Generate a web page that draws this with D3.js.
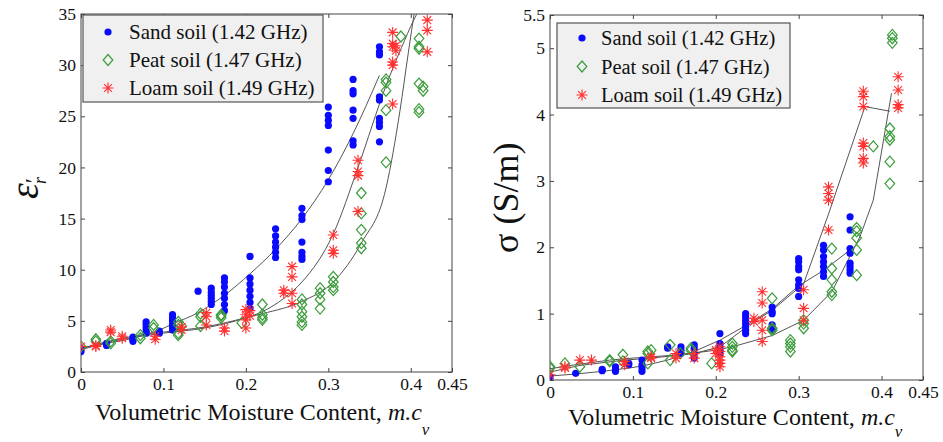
<!DOCTYPE html>
<html>
<head>
<meta charset="utf-8">
<script src="https://cdn.jsdelivr.net/npm/d3@7"></script>
<style>
  body { margin: 0; background: #fff; }
  svg text { font-family: "Liberation Serif", "Times New Roman", serif !important; fill: #111; }
</style>
</head>
<body>
<div id="chart"></div>
<script>
// tick values
const xTicks = [0, 0.1, 0.2, 0.3, 0.4, 0.45];
const epsTicks = [0, 5, 10, 15, 20, 25, 30, 35];
const sigTicks = [0, 1, 2, 3, 4, 5, 5.5];

const legendLabels = ["Sand soil (1.42 GHz)", "Peat soil (1.47 GHz)", "Loam soil (1.49 GHz)"];

// measured points, grouped by moisture content: [mc, [values]]
// real part of permittivity
const sandEps = [
  [0, [2.0, 2.3]], [0.031, [2.6, 2.8]], [0.063, [3.0, 3.2, 3.4]], [0.079, [3.8, 4.0, 4.3, 4.6, 4.9]],
  [0.095, [3.8, 4.0]], [0.111, [4.1, 4.4, 4.7, 5.0, 5.3, 5.6]], [0.142, [7.9]],
  [0.158, [6.6, 6.9, 7.2, 7.5, 7.8, 8.2]], [0.174, [6.0, 6.6, 7.2, 7.7, 8.3, 8.8, 9.2]],
  [0.205, [6.2, 6.8, 7.4, 8.0, 8.6, 9.2, 11.3]], [0.236, [11.2, 11.7, 12.2, 12.7, 13.3, 14.0]],
  [0.268, [11.0, 11.3, 11.7, 12.7, 14.9, 15.3, 16.0]], [0.30, [18.6, 19.7, 21.7, 24.1, 24.6, 25.1, 25.9]],
  [0.33, [22.2, 22.6, 24.8, 25.6, 27.2, 27.5, 28.6]], [0.362, [22.5, 24.0, 24.4, 24.8, 26.6, 26.9, 31.0, 31.3, 31.8]]
];
const peatEps = [
  [0, [2.5]], [0.018, [3.0, 3.2]], [0.036, [2.8, 3.0]], [0.072, [3.3, 3.6]], [0.088, [4.3, 4.6]],
  [0.118, [3.6, 3.8, 4.6, 4.9]], [0.122, [4.5]], [0.145, [4.5, 5.4, 5.7]], [0.17, [5.3, 5.5, 5.6]],
  [0.195, [4.8]], [0.22, [5.1, 5.3, 5.6, 6.6]], [0.268, [4.6, 4.9, 5.4, 5.9, 6.6, 7.1]],
  [0.29, [6.2, 7.1, 7.7, 8.2]], [0.306, [8.0, 8.3, 8.8, 9.3]], [0.34, [12.1, 12.6, 13.9, 15.5, 17.5]],
  [0.37, [20.5, 25.6, 27.5, 28.3, 28.6]], [0.388, [32.8]], [0.41, [25.4, 25.7, 28.2, 31.6, 31.8, 32.6]],
  [0.415, [27.5, 27.9]]
];
const loamEps = [
  [0, [2.5]], [0.018, [2.5, 2.6]], [0.036, [3.9, 4.1]], [0.05, [3.3, 3.5]], [0.09, [3.2, 3.5]],
  [0.122, [4.1, 4.4]], [0.152, [4.6, 5.4, 5.8]], [0.174, [4.0, 4.3]], [0.2, [4.3, 5.1, 5.6, 6.1]],
  [0.205, [5.5, 6.0]], [0.246, [7.7, 8.0]], [0.256, [6.7, 7.7, 9.3, 10.3]], [0.306, [11.6, 11.9, 13.4]],
  [0.336, [15.7, 19.2, 19.6, 20.7]], [0.378, [26.2, 30.0, 30.3, 31.8, 32.1, 33.2]], [0.382, [31.4, 31.9]],
  [0.42, [31.3, 33.4, 34.4]]
];

// conductivity
const sandSig = [
  [0, [0.05]], [0.031, [0.10]], [0.063, [0.14, 0.16]], [0.079, [0.13, 0.15, 0.20]], [0.095, [0.23, 0.25]],
  [0.111, [0.13, 0.18, 0.23, 0.30]], [0.142, [0.48, 0.50]], [0.158, [0.40, 0.45, 0.50]],
  [0.174, [0.33, 0.40, 0.48, 0.53]], [0.205, [0.40, 0.45, 0.50, 0.55, 0.70]],
  [0.236, [0.70, 0.75, 0.80, 0.85, 0.90, 0.95, 1.0]], [0.268, [0.75, 0.78, 0.83, 1.0, 1.03, 1.1]],
  [0.30, [1.26, 1.38, 1.43, 1.51, 1.66, 1.71, 1.78, 1.83]], [0.33, [1.56, 1.63, 1.71, 1.78, 1.86, 1.96, 2.03]],
  [0.362, [1.61, 1.66, 1.71, 1.76, 1.91, 1.98, 2.26, 2.46]]
];
const peatSig = [
  [0, [0.18, 0.20]], [0.018, [0.25]], [0.036, [0.20]], [0.072, [0.28, 0.30]], [0.088, [0.28, 0.38]],
  [0.118, [0.25, 0.40, 0.43]], [0.122, [0.45]], [0.145, [0.30, 0.53]], [0.157, [0.40]], [0.17, [0.45, 0.48]],
  [0.195, [0.25]], [0.22, [0.43, 0.45, 0.50, 0.55]], [0.268, [0.75, 0.78, 1.23]], [0.29, [0.43, 0.50, 0.55, 0.60]],
  [0.306, [0.78, 0.85, 0.90]], [0.34, [1.28, 1.33, 1.51, 1.68, 1.98]], [0.37, [1.58, 1.96, 2.14, 2.24, 2.29]],
  [0.39, [3.52]], [0.41, [2.96, 3.29, 3.62, 3.67, 3.79]], [0.413, [5.08, 5.15, 5.2]]
];
const loamSig = [
  [0, [0.08]], [0.018, [0.18, 0.20]], [0.036, [0.30]], [0.05, [0.30]], [0.09, [0.23, 0.28]],
  [0.122, [0.33, 0.35]], [0.152, [0.33, 0.40]], [0.174, [0.33, 0.40]], [0.2, [0.40, 0.45]],
  [0.205, [0.20, 0.25, 0.30, 0.35, 0.43, 0.50]], [0.246, [0.88, 0.93]], [0.256, [0.58, 0.75, 0.90, 1.16, 1.33]],
  [0.306, [0.90, 1.08, 1.36]], [0.336, [2.26, 2.71, 2.81, 2.91]], [0.378, [3.27, 3.34, 3.52, 3.57, 4.12, 4.27, 4.35]],
  [0.42, [4.10, 4.15, 4.37, 4.57]]
];

// model curves [mc, value]
const sandEpsFit = [[0, 2.2], [0.031, 2.8], [0.063, 3.3], [0.079, 3.7], [0.095, 4.1], [0.111, 4.7], [0.142, 5.8],
  [0.158, 6.6], [0.174, 7.5], [0.205, 9.6], [0.236, 12.0], [0.268, 15.0], [0.30, 18.8], [0.33, 23.3], [0.362, 29.0]];
const peatEpsFit = [[0, 2.3], [0.05, 3.3], [0.1, 3.9], [0.15, 4.4], [0.2, 5.3], [0.22, 5.7], [0.268, 6.9],
  [0.306, 8.8], [0.34, 12.6], [0.37, 18.0], [0.387, 25.6], [0.397, 31.2], [0.405, 35.5], [0.41, 38]];
const loamEpsFit = [[0, 2.3], [0.05, 3.2], [0.1, 3.8], [0.15, 4.3], [0.2, 5.3], [0.22, 5.9], [0.246, 7.2],
  [0.268, 8.8], [0.306, 13.5], [0.336, 20.0], [0.37, 28.0], [0.40, 33.8], [0.41, 35.6], [0.415, 37]];

const sandSigFit = [[0, 0.06], [0.031, 0.09], [0.063, 0.13], [0.095, 0.18], [0.111, 0.21], [0.142, 0.30],
  [0.174, 0.43], [0.205, 0.60], [0.236, 0.82], [0.268, 1.07], [0.30, 1.42], [0.33, 1.65], [0.362, 1.96]];
const peatSigFit = [[0, 0.17], [0.036, 0.24], [0.072, 0.30], [0.1, 0.33], [0.145, 0.37], [0.17, 0.40],
  [0.2, 0.45], [0.22, 0.50], [0.268, 0.67], [0.306, 0.90], [0.34, 1.33], [0.374, 2.16], [0.39, 2.71], [0.412, 4.32]];
const loamSigFit = [[0, 0.12], [0.036, 0.22], [0.09, 0.30], [0.122, 0.33], [0.152, 0.37], [0.174, 0.40],
  [0.205, 0.50], [0.246, 0.88], [0.268, 1.05], [0.306, 1.45], [0.336, 2.50], [0.38, 4.12], [0.41, 4.05]];

const blue = "#0a0aff", green = "#3c9c3c", red = "#ff3030", axisCol = "#444";
const serif = "'Liberation Serif', 'Times New Roman', serif";

const svg = d3.select("#chart").append("svg").attr("width", 943).attr("height", 442)
  .attr("font-family", serif);

function flat(groups) {
  let out = [];
  groups.forEach(g => g[1].forEach(v => out.push([g[0], v])));
  return out;
}

function addMarker(g, type, x, y) {
  if (type === "dot") {
    g.append("circle").attr("cx", x).attr("cy", y).attr("r", 3.6).attr("fill", blue);
  } else if (type === "diamond") {
    g.append("path").attr("transform", "translate(" + x + "," + y + ")")
      .attr("d", "M0,-5.5L4.8,0L0,5.5L-4.8,0Z").attr("fill", "none").attr("stroke", green).attr("stroke-width", 1.2);
  } else {
    g.append("path").attr("transform", "translate(" + x + "," + y + ")")
      .attr("d", "M-5.5,0H5.5M0,-5.5V5.5M-3.9,-3.9L3.9,3.9M-3.9,3.9L3.9,-3.9")
      .attr("stroke", red).attr("stroke-width", 1.1);
  }
}

function panel(cfg) {
  const x = d3.scaleLinear().domain([0, 0.45]).range([cfg.left, cfg.right]);
  const y = d3.scaleLinear().domain(cfg.yDomain).range([cfg.bottom, cfg.top]);
  const g = svg.append("g");
  const w = cfg.right - cfg.left, h = cfg.bottom - cfg.top;

  g.append("clipPath").attr("id", cfg.id).append("rect")
    .attr("x", cfg.left).attr("y", cfg.top).attr("width", w).attr("height", h);

  // box
  g.append("rect").attr("x", cfg.left).attr("y", cfg.top).attr("width", w).attr("height", h)
    .attr("fill", "none").attr("stroke", axisCol).attr("stroke-width", 1);

  // axes with inward ticks
  const fmt = d => String(d);
  const styleText = a => a.selectAll("text").attr("font-family", serif).style("font-size", "17.5px").attr("fill", "#111");
  g.append("g").attr("transform", "translate(0," + cfg.bottom + ")")
    .call(d3.axisBottom(x).tickValues(xTicks).tickFormat(fmt).tickSizeInner(-4).tickSizeOuter(0).tickPadding(6))
    .call(a => { a.select(".domain").remove(); a.selectAll("line").attr("stroke", axisCol); styleText(a); });
  g.append("g").attr("transform", "translate(0," + cfg.top + ")")
    .call(d3.axisTop(x).tickValues(xTicks).tickFormat("").tickSizeInner(-4).tickSizeOuter(0))
    .call(a => { a.select(".domain").remove(); a.selectAll("line").attr("stroke", axisCol); });
  g.append("g").attr("transform", "translate(" + cfg.left + ",0)")
    .call(d3.axisLeft(y).tickValues(cfg.yTicks).tickFormat(fmt).tickSizeInner(-4).tickSizeOuter(0).tickPadding(5))
    .call(a => { a.select(".domain").remove(); a.selectAll("line").attr("stroke", axisCol); styleText(a); });
  g.append("g").attr("transform", "translate(" + cfg.right + ",0)")
    .call(d3.axisRight(y).tickValues(cfg.yTicks).tickFormat("").tickSizeInner(-4).tickSizeOuter(0))
    .call(a => { a.select(".domain").remove(); a.selectAll("line").attr("stroke", axisCol); });

  // model lines
  const line = d3.line().x(d => x(d[0])).y(d => y(d[1])).curve(cfg.curve);
  const lg = g.append("g").attr("clip-path", "url(#" + cfg.id + ")");
  cfg.fits.forEach(f => {
    lg.append("path").attr("d", line(f)).attr("fill", "none").attr("stroke", "#555").attr("stroke-width", 1);
  });

  // points
  const pg = g.append("g").attr("clip-path", "url(#" + cfg.id + ")");
  const types = ["dot", "diamond", "star"];
  cfg.series.forEach((s, i) => flat(s).forEach(p => addMarker(pg, types[i], x(p[0]), y(p[1]))));

  // legend
  const L = cfg.legend;
  g.append("rect").attr("x", L.x).attr("y", L.y).attr("width", L.w).attr("height", L.h)
    .attr("fill", "#f0f0f0").attr("stroke", "#555").attr("stroke-width", 1.2);
  legendLabels.forEach((t, i) => {
    const cy = L.row0 + i * L.step;
    addMarker(g, types[i], L.mx, cy);
    g.append("text").attr("x", L.tx).attr("y", cy + 7).style("font-size", L.fs + "px").text(t);
  });

  // x label
  const xl = g.append("text").attr("x", cfg.xlab.x).attr("y", cfg.xlab.y).style("font-size", "24px");
  xl.append("tspan").text("Volumetric Moisture Content, ");
  xl.append("tspan").style("font-style", "italic").text("m.c");
  xl.append("tspan").style("font-style", "italic").style("font-size", "17px").attr("dy", cfg.xlab.sub).text("v");

  return g;
}

const left = panel({
  id: "clipL", left: 81, right: 452, top: 14, bottom: 372, yDomain: [0, 35], yTicks: epsTicks,
  series: [sandEps, peatEps, loamEps], fits: [sandEpsFit, peatEpsFit, loamEpsFit], curve: d3.curveMonotoneX,
  legend: { x: 83, y: 15, w: 240, h: 87, row0: 32, step: 28, mx: 108, tx: 129, fs: 21 },
  xlab: { x: 95, y: 420, sub: 15 }
});
const right = panel({
  id: "clipR", left: 550, right: 923, top: 15, bottom: 380, yDomain: [0, 5.5], yTicks: sigTicks,
  series: [sandSig, peatSig, loamSig], fits: [sandSigFit, peatSigFit, loamSigFit], curve: d3.curveLinear,
  legend: { x: 557, y: 23, w: 233, h: 85, row0: 38, step: 28.5, mx: 582, tx: 601, fs: 20.5 },
  xlab: { x: 568, y: 425, sub: 12 }
});

// y labels
const yl1 = svg.append("text").attr("transform", "translate(37.5,199) rotate(-90)").style("font-size", "40px");
yl1.append("tspan").style("font-style", "italic").text("ε");
yl1.append("tspan").style("font-size", "24px").attr("dy", 3).text("′");
yl1.append("tspan").style("font-style", "italic").style("font-size", "18px").attr("dx", -6).attr("dy", 5).text("r");

svg.append("text").attr("transform", "translate(518,253) rotate(-90)").style("font-size", "36px")
  .text("σ (S/m)");
</script>
</body>
</html>
